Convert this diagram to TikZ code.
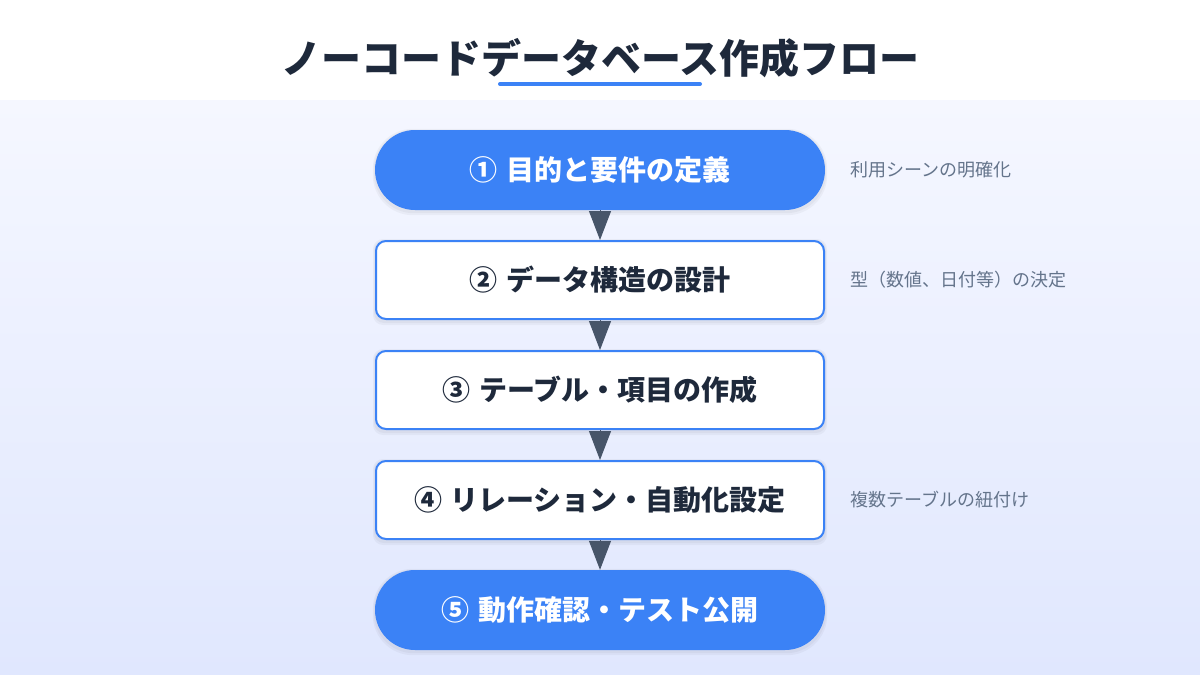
\documentclass[tikz,border=0pt]{standalone}
\usepackage{fontspec}
\setmainfont{Noto Sans CJK JP}
\usetikzlibrary{arrows.meta}
\definecolor{bgtop}{HTML}{F5F7FF}
\definecolor{bgbot}{HTML}{E0E7FE}
\definecolor{titlec}{HTML}{1E293B}
\definecolor{bluec}{HTML}{3B82F6}
\definecolor{arrowc}{HTML}{475569}
\definecolor{notec}{HTML}{64748B}
\tikzset{
  pill/.style={fill=bluec, draw=none, rounded corners=40pt, minimum width=450pt, minimum height=80pt,
    text=white, font=\bfseries\fontsize{28}{32}\selectfont, inner sep=0pt},
  boxstep/.style={fill=white, draw=bluec, line width=2pt, rounded corners=10pt, minimum width=448pt, minimum height=78pt,
    text=titlec, font=\bfseries\fontsize{28}{32}\selectfont, inner sep=0pt},
  note/.style={anchor=west, text=notec, font=\fontsize{18}{21}\selectfont, inner sep=0pt},
  flow/.style={draw=arrowc, line width=1pt, -{Triangle[width=22pt,length=29pt,fill=arrowc]}},
}
\newcommand{\softshadow}[2]{%
  \fill[black, opacity=0.035, rounded corners=#2] ([xshift=-2pt,yshift=-5pt]#1.south west) rectangle ([xshift=2pt,yshift=1pt]#1.north east);
  \fill[black, opacity=0.035, rounded corners=#2] ([xshift=-1pt,yshift=-3pt]#1.south west) rectangle ([xshift=1pt,yshift=0pt]#1.north east);
}
\begin{document}
\begin{tikzpicture}[x=1pt,y=-1pt]
\useasboundingbox (0,0) rectangle (1200,675);
\fill[white] (0,0) rectangle (1200,100);
\shade[top color=bgtop, bottom color=bgbot] (0,100) rectangle (1200,675);
\node[text=titlec, font=\bfseries\fontsize{40}{46}\selectfont] (title) at (600,58) {ノーコードデータベース作成フロー};
\coordinate (ulA) at (500,84);
\coordinate (ulB) at (700,84);
\draw[bluec, line width=4pt, line cap=round] (ulA) -- (ulB);

\path node[pill, opacity=0] (s1) at (600,170) {}
      node[boxstep, opacity=0] (s2) at (600,280) {}
      node[boxstep, opacity=0] (s3) at (600,390) {}
      node[boxstep, opacity=0] (s4) at (600,500) {}
      node[pill, opacity=0] (s5) at (600,610) {};
\softshadow{s1}{40pt}
\softshadow{s2}{10pt}
\softshadow{s3}{10pt}
\softshadow{s4}{10pt}
\softshadow{s5}{40pt}

\node[pill] (n1) at (600,170) {①\hspace{0.3em}目的と要件の定義};
\node[boxstep] (n2) at (600,280) {②\hspace{0.3em}データ構造の設計};
\node[boxstep] (n3) at (600,390) {③\hspace{0.3em}テーブル・項目の作成};
\node[boxstep] (n4) at (600,500) {④\hspace{0.3em}リレーション・自動化設定};
\node[pill] (n5) at (600,610) {⑤\hspace{0.3em}動作確認・テスト公開};

\draw[flow] (n1.south) -- (n2.north);
\draw[flow] (n2.south) -- (n3.north);
\draw[flow] (n3.south) -- (n4.north);
\draw[flow] (n4.south) -- (n5.north);

\node[note] (c1) at (850,170) {利用シーンの明確化};
\node[note] (c2) at (850,280) {型（数値、日付等）の決定};
\node[note] (c4) at (850,500) {複数テーブルの紐付け};
\end{tikzpicture}
\end{document}
